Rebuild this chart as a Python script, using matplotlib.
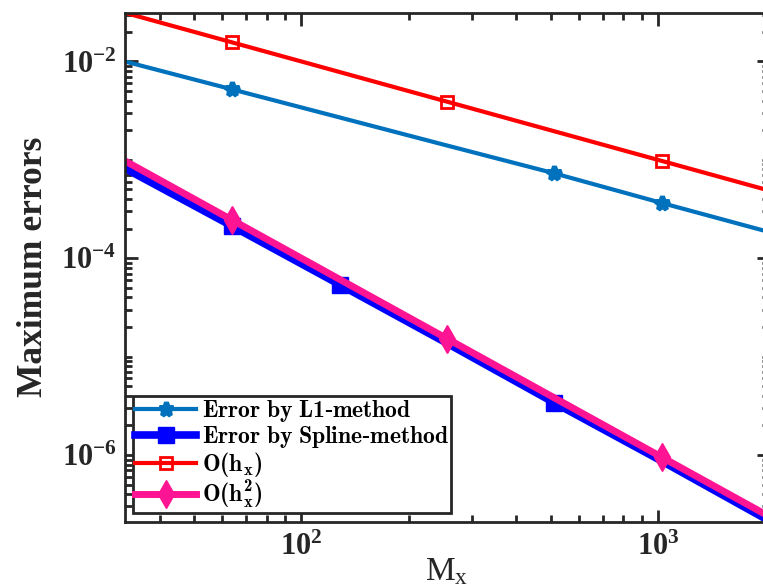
import matplotlib
matplotlib.use("Agg")
import matplotlib.pyplot as plt
from matplotlib.ticker import FixedLocator, LogLocator, NullFormatter

# grid sizes and errors
m_x = [32, 64, 128, 256, 512, 1024, 2048]
err_l1 = [1.0e-2, 5.2e-3, 2.7e-3, 1.4e-3, 7.3e-4, 3.65e-4, 1.85e-4]
err_spline = [8.2e-4, 2.12e-4, 5.4e-5, 1.37e-5, 3.4e-6, 8.7e-7, 2.15e-7]
order_1 = [3.125e-2, 1.5625e-2, 7.8125e-3, 3.906e-3, 1.953e-3, 9.766e-4, 4.883e-4]
order_2 = [9.766e-4, 2.441e-4, 6.104e-5, 1.526e-5, 3.815e-6, 9.537e-7, 2.384e-7]

labels = [r"$\mathsf{Error\ by\ L1\text{-}method}$",
          r"$\mathsf{Error\ by\ Spline\text{-}method}$",
          r"$\mathsf{O(h_x)}$",
          r"$\mathsf{O(h_x^2)}$"]

plt.rcParams["font.family"] = "Liberation Serif"
plt.rcParams["mathtext.fontset"] = "custom"
plt.rcParams["mathtext.rm"] = "Liberation Serif:bold"
plt.rcParams["mathtext.bf"] = "Liberation Serif:bold"
plt.rcParams["mathtext.it"] = "Liberation Serif:bold"
plt.rcParams["mathtext.sf"] = "cmb10"

dark = "#262626"

fig = plt.figure(figsize=(7.63, 5.87), dpi=100)
ax = fig.add_axes([0.1638, 0.1112, 0.844, 0.867])

ax.loglog(m_x, err_l1, color="#0072BD", lw=3, marker="*", ms=10, mew=3.5,
          markevery=[1, 4, 5], label=labels[0])
ax.loglog(m_x, err_spline, color="#0000FF", lw=5.5, marker="s", ms=11,
          markevery=[1, 2, 4], label=labels[1])
ax.loglog(m_x, order_1, color="#FF0000", lw=3, marker="s", ms=8, mew=2,
          mfc="none", markevery=[1, 3, 5], label=labels[2])
ax.loglog(m_x, order_2, color="#FF1493", lw=5, marker="d", ms=14,
          markevery=[1, 3, 5], label=labels[3])

ax.set_xlim(32, 2048)
ax.set_ylim(2.1e-7, 3.125e-2)

ax.xaxis.set_major_locator(FixedLocator([1e2, 1e3]))
ax.yaxis.set_major_locator(FixedLocator([1e-6, 1e-4, 1e-2]))
ax.xaxis.set_minor_locator(LogLocator(base=10, subs=range(1, 10), numticks=20))
ax.yaxis.set_minor_locator(LogLocator(base=10, subs=range(1, 10), numticks=20))
ax.xaxis.set_minor_formatter(NullFormatter())
ax.yaxis.set_minor_formatter(NullFormatter())
ax.set_xticklabels([r"$\mathbf{10^2}$", r"$\mathbf{10^3}$"])
ax.set_yticklabels([r"$\mathbf{10^{-6}}$", r"$\mathbf{10^{-4}}$", r"$\mathbf{10^{-2}}$"])

ax.tick_params(which="both", direction="in", top=True, right=True,
               colors=dark, labelsize=22, width=2)
ax.tick_params(which="major", length=9)
ax.tick_params(axis="x", which="major", pad=8)
ax.tick_params(axis="y", which="major", pad=6)
ax.tick_params(which="minor", length=5)
for sp in ax.spines.values():
    sp.set_linewidth(2)
    sp.set_color(dark)

ax.set_ylabel("Maximum errors", fontsize=25.5, fontweight="bold", color=dark, labelpad=8)
ax.set_xlabel(r"M$_\mathregular{x}$", fontsize=24, color=dark, labelpad=-4)

leg = ax.legend(loc="lower left", bbox_to_anchor=(0.0124, 0.017), borderaxespad=0,
                fontsize=17, handlelength=2.6, fancybox=False, framealpha=1,
                borderpad=0.08, labelspacing=0.0, handletextpad=0.25)
leg.get_frame().set_edgecolor(dark)
leg.get_frame().set_linewidth(2)

fig.savefig("out.png", dpi=100)
